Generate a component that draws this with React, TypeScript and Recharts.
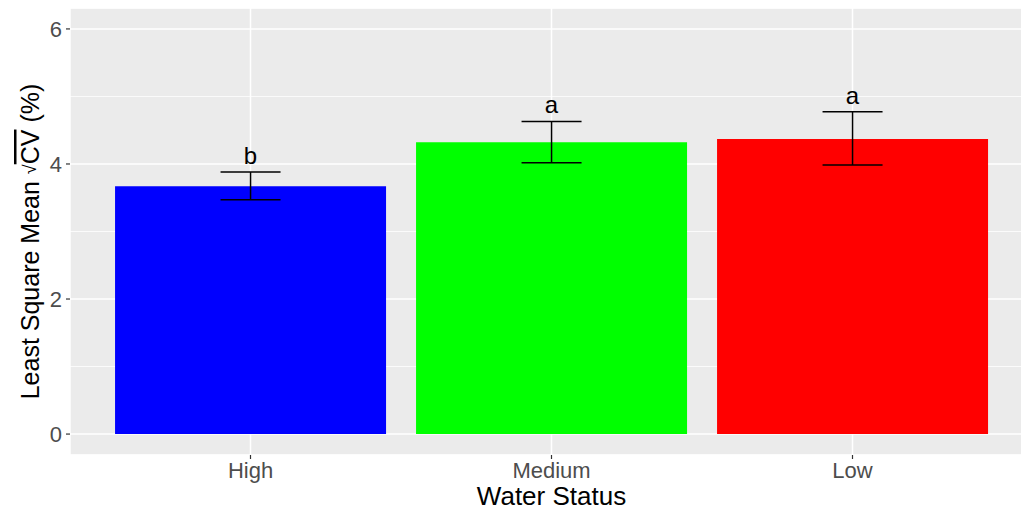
import React from 'react';
import { ComposedChart, Bar, Line, XAxis, YAxis, CartesianGrid, ErrorBar, Cell, LabelList } from 'recharts';

const categories = ['High', 'Medium', 'Low'];
const means = [3.67, 4.32, 4.37];
const lower = [3.47, 4.02, 3.985];
const upper = [3.88, 4.63, 4.775];
const letters = ['b', 'a', 'a'];
const colors = ['#0000FF', '#00FF00', '#FF0000'];
const majorTicks = [0, 2, 4, 6];
const minorTicks = [1, 3, 5];

const data = categories.map((name, i) => ({
  name,
  mean: means[i],
  upper: upper[i],
  letter: letters[i],
  err: [means[i] - lower[i], upper[i] - means[i]],
}));

const FONT = '"Liberation Sans", Arial, Helvetica, sans-serif';

const YTitle = (props: any) => {
  const { viewBox } = props;
  const cx = viewBox.x + 30;
  const cy = viewBox.y + viewBox.height / 2 + 10;
  return (
    <text
      x={cx}
      y={cy}
      transform={`rotate(-90, ${cx}, ${cy})`}
      textAnchor="middle"
      dominantBaseline="central"
      fontSize={25}
      fill="#000"
    >
      Least Square Mean{'\u00a0'}<tspan fontSize={18}>√</tspan>
      <tspan style={{ textDecoration: 'overline' }}>CV</tspan>{'\u00a0'}(%)
    </text>
  );
};

const App: React.FC = () => {
  return (
    <div
      style={{
        position: 'absolute',
        left: 0,
        top: 0,
        width: 1021,
        height: 510,
        overflow: 'hidden',
        background: '#fff',
        fontFamily: FONT,
      }}
    >
      <ComposedChart
        width={1033}
        height={510}
        data={data}
        margin={{ top: 8, right: 0, bottom: 0, left: 0 }}
        barCategoryGap="5%"
      >
        <CartesianGrid fill="#EBEBEB" stroke="#FFFFFF" strokeWidth={0.8} vertical={false} yAxisId="minor" />
        <CartesianGrid stroke="#FFFFFF" strokeWidth={1.5} fill="none" />
        <XAxis
          dataKey="name"
          height={55}
          padding={{ left: 30, right: 30 }}
          axisLine={false}
          tickLine={{ stroke: '#333333', strokeWidth: 1.2 }}
          tickSize={4}
          tickMargin={3}
          tick={{ fill: '#4D4D4D', fontSize: 22 }}
          label={{ value: 'Water Status', position: 'insideBottom', offset: 5, fontSize: 26, fill: '#000' }}
        />
        <YAxis
          width={70}
          domain={[-0.31, 6.31]}
          ticks={majorTicks}
          allowDataOverflow
          axisLine={false}
          tickLine={{ stroke: '#333333', strokeWidth: 1.2 }}
          tickSize={4}
          tickMargin={4}
          tick={{ fill: '#4D4D4D', fontSize: 22 }}
          label={<YTitle />}
        />
        <YAxis yAxisId="minor" hide domain={[-0.31, 6.31]} ticks={minorTicks} allowDataOverflow />
        <Bar dataKey="mean" isAnimationActive={false}>
          {data.map((d, i) => (
            <Cell key={d.name} fill={colors[i]} />
          ))}
          <ErrorBar dataKey="err" width={30} stroke="#000" strokeWidth={1.5} direction="y" />
        </Bar>
        <Line dataKey="upper" stroke="none" dot={false} activeDot={false} isAnimationActive={false}>
          <LabelList dataKey="letter" position="top" offset={8} fontSize={24} fill="#000" />
        </Line>
      </ComposedChart>
    </div>
  );
};

export default App;
